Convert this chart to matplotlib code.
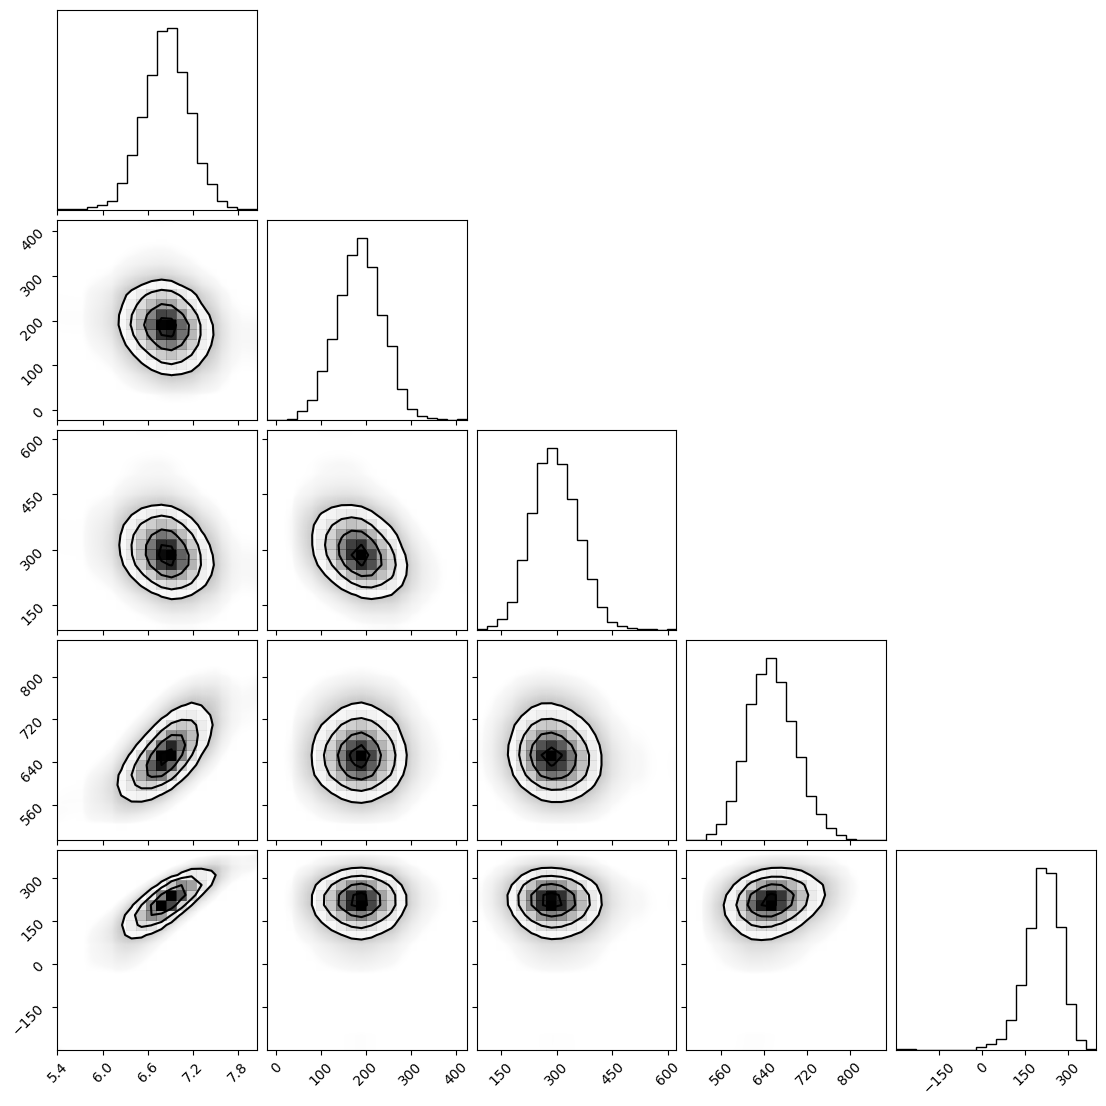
import math
import numpy as np
import matplotlib
matplotlib.use("Agg")
import matplotlib.pyplot as plt
from matplotlib.colors import LinearSegmentedColormap

# ---------------- data ----------------
ranges = [(5.387, 8.045), (-22.0, 424.5), (83.5, 623.0), (495.5, 868.0), (-300.0, 399.0)]

hist0 = [2, 2, 2, 8, 14, 27, 81, 163, 278, 404, 535, 544, 412, 290, 140, 78, 26, 8, 4, 4]
hist1 = [1, 1, 4, 27, 61, 145, 242, 374, 492, 543, 456, 313, 221, 92, 34, 12, 5, 2, 0, 2]
hist2 = [3, 11, 34, 85, 209, 350, 500, 543, 497, 392, 269, 151, 68, 24, 11, 5, 4, 2, 1, 2]
hist3 = [1, 1, 17, 49, 117, 236, 407, 497, 543, 472, 355, 248, 131, 77, 36, 14, 4, 1, 1, 1]
hist4 = [2, 2, 0, 1, 1, 1, 1, 1, 8, 17, 32, 90, 194, 365, 545, 530, 370, 139, 29, 2]
hists = [hist0, hist1, hist2, hist3, hist4]

# pairwise correlations (row param, column param)
corr_pairs = [(1, 0), (2, 0), (3, 0), (4, 0), (2, 1), (3, 1), (4, 1), (3, 2), (4, 2), (4, 3)]
corr_values = [-0.15, -0.2, 0.65, 0.8, -0.3, 0.0, 0.0, -0.1, -0.05, 0.2]

ticks = [[5.4, 6.0, 6.6, 7.2, 7.8], [0, 100, 200, 300, 400], [150, 300, 450, 600],
         [560, 640, 720, 800], [-150, 0, 150, 300]]
tick_labels = [["5.4", "6.0", "6.6", "7.2", "7.8"], ["0", "100", "200", "300", "400"],
               ["150", "300", "450", "600"], ["560", "640", "720", "800"],
               ["\u2212150", "0", "150", "300"]]

K = 5
NB = 20
SUB = 10
NF = NB * SUB
N_SAMPLES = 10000.0

# normal CDF table
zt = np.linspace(-8, 8, 8001)
Phit = np.array([0.5 * math.erfc(-z / math.sqrt(2)) for z in zt])


def marginal(p):
    lo, hi = ranges[p]
    edges = np.linspace(lo, hi, NB + 1)
    centers = 0.5 * (edges[1:] + edges[:-1])
    fe = np.linspace(lo, hi, NF + 1)
    fc = 0.5 * (fe[1:] + fe[:-1])
    pdf = np.interp(fc, centers, np.asarray(hists[p], float)) + 1e-3
    pdf /= pdf.sum()
    cdf_mid = np.cumsum(pdf) - 0.5 * pdf
    z = np.interp(np.clip(cdf_mid, 1e-12, 1 - 1e-12), Phit, zt)
    return edges, fc, pdf, z


marg = [marginal(p) for p in range(K)]

density_cmap = LinearSegmentedColormap.from_list("density_cmap", ["k", (1, 1, 1, 0)])
white_cmap = LinearSegmentedColormap.from_list("white_cmap", [(1, 1, 1), (1, 1, 1)], N=2)
levels = 1.0 - np.exp(-0.5 * np.arange(0.5, 2.1, 0.5) ** 2)


def draw_pair(ax, j, i, rho):
    X, xc, px, zx = marg[j]
    Y, yc, py, zy = marg[i]
    A, B = np.meshgrid(zx, zy, indexing="ij")
    q = (rho ** 2 * (A ** 2 + B ** 2) - 2 * rho * A * B) / (2 * (1 - rho ** 2))
    f = np.exp(-q) / np.sqrt(1 - rho ** 2) * px[:, None] * py[None, :]
    f /= f.sum()
    H = f.reshape(NB, SUB, NB, SUB).sum(axis=(1, 3)) * N_SAMPLES

    Hflat = H.flatten()
    inds = np.argsort(Hflat)[::-1]
    Hflat = Hflat[inds]
    sm = np.cumsum(Hflat)
    sm /= sm[-1]
    V = np.empty(len(levels))
    for k, v0 in enumerate(levels):
        try:
            V[k] = Hflat[sm <= v0][-1]
        except IndexError:
            V[k] = Hflat[0]
    V.sort()

    X1, Y1 = 0.5 * (X[1:] + X[:-1]), 0.5 * (Y[1:] + Y[:-1])
    H2 = H.min() + np.zeros((H.shape[0] + 4, H.shape[1] + 4))
    H2[2:-2, 2:-2] = H
    H2[2:-2, 1] = H[:, 0]
    H2[2:-2, -2] = H[:, -1]
    H2[1, 2:-2] = H[0]
    H2[-2, 2:-2] = H[-1]
    H2[1, 1] = H[0, 0]
    H2[1, -2] = H[0, -1]
    H2[-2, 1] = H[-1, 0]
    H2[-2, -2] = H[-1, -1]
    X2 = np.concatenate([X1[0] + np.array([-2, -1]) * np.diff(X1[:2]), X1,
                         X1[-1] + np.array([1, 2]) * np.diff(X1[-2:])])
    Y2 = np.concatenate([Y1[0] + np.array([-2, -1]) * np.diff(Y1[:2]), Y1,
                         Y1[-1] + np.array([1, 2]) * np.diff(Y1[-2:])])

    # faint cloud standing in for the individual samples
    d_rel = f * N_SAMPLES * SUB * SUB / V.min()
    dark = 0.24 * d_rel ** 0.7 * np.clip((d_rel - 0.012) / 0.04, 0, 1)
    dark = np.clip(dark, 0, 0.3)
    img = np.zeros((NF, NF, 4))
    img[..., 3] = dark.T
    ax.imshow(img, origin="lower", extent=(X[0], X[-1], Y[0], Y[-1]), aspect="auto",
              interpolation="bilinear", zorder=-1)

    ax.contourf(X2, Y2, H2.T, [V.min(), H.max()], cmap=white_cmap, antialiased=False)
    ax.pcolor(X, Y, H.max() - H.T, cmap=density_cmap)
    ax.contour(X2, Y2, H2.T, V, colors="k", linewidths=1.5)
    ax.set_xlim(ranges[j])
    ax.set_ylim(ranges[i])


fig, axes = plt.subplots(K, K, figsize=(11.06, 11.06), dpi=100)
fig.subplots_adjust(left=0.0511, right=0.9914, bottom=0.0506, top=0.991,
                    wspace=0.05, hspace=0.05)

corr_map = {pr: v for pr, v in zip(corr_pairs, corr_values)}

for i in range(K):
    for j in range(K):
        ax = axes[i, j]
        if j > i:
            ax.axis("off")
            continue
        if i == j:
            edges = marg[i][0]
            centers = 0.5 * (edges[1:] + edges[:-1])
            ax.hist(centers, bins=edges, weights=hists[i], histtype="step", color="k")
            ax.set_xlim(ranges[i])
            ax.set_ylim(0, 1.1 * max(hists[i]))
            ax.set_yticks([])
        else:
            draw_pair(ax, j, i, corr_map[(i, j)])
            ax.set_yticks(ticks[i])
            if j == 0:
                ax.set_yticklabels(tick_labels[i], rotation=45)
            else:
                ax.set_yticklabels([])
        ax.set_xticks(ticks[j])
        if i == K - 1:
            ax.set_xticklabels(tick_labels[j], rotation=45)
        else:
            ax.set_xticklabels([])

fig.savefig("out.png", dpi=100)
